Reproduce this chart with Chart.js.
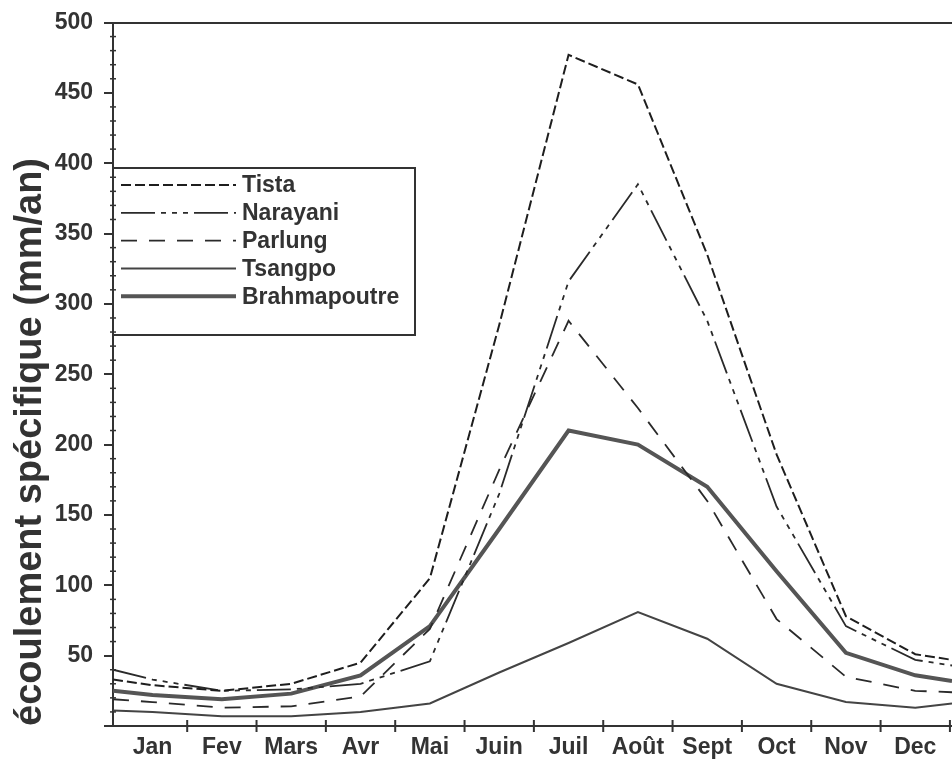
<!DOCTYPE html>
<html lang="fr">
<head>
  <meta charset="UTF-8" />
  <title>Écoulement spécifique</title>
  <script src="https://cdn.jsdelivr.net/npm/chart.js@4"></script>
  <style>
    html, body { margin: 0; padding: 0; background: #fff; }
    #wrap { width: 952px; height: 760px; position: relative; }
  </style>
</head>
<body>
  <div id="wrap"><canvas id="chart"></canvas></div>

  <script>
    // positions des mois (bords gauche/droit du graphique compris)
    const moisPos = [0.43, 1, 2, 3, 4, 5, 6, 7, 8, 9, 10, 11, 12, 12.53];
    const mois = ['Jan', 'Fev', 'Mars', 'Avr', 'Mai', 'Juin', 'Juil', 'Août', 'Sept', 'Oct', 'Nov', 'Dec'];

    const tista        = [33, 29, 25, 30, 45, 105, 285, 477, 456, 335, 193, 78, 51, 47];
    const narayani     = [40, 33, 25, 26, 30, 46, 165, 316, 385, 288, 156, 71, 47, 43];
    const parlung      = [19, 17, 13, 14, 21, 69, 182, 288, 226, 160, 76, 35, 25, 24];
    const tsangpo      = [11, 10, 7, 7, 10, 16, 38, 59, 81, 62, 30, 17, 13, 16];
    const brahmapoutre = [25, 22, 19, 23, 36, 71, 140, 210, 200, 170, 110, 52, 36, 32];

    const pts = arr => moisPos.map((x, i) => ({ x, y: arr[i] }));
    const police = '"Liberation Sans", Arial, sans-serif';
    Chart.defaults.font.family = police;
    Chart.defaults.color = '#333';

    // légende encadrée dans le coin haut gauche
    const legendBox = {
      id: 'legendBox',
      afterDraw(chart) {
        const { ctx, chartArea } = chart;
        const x0 = chartArea.left, y0 = 168, w = 302, h = 167;
        ctx.save();
        ctx.fillStyle = '#fff';
        ctx.fillRect(x0 + 1, y0, w - 1, h);
        ctx.strokeStyle = '#333';
        ctx.lineWidth = 2;
        ctx.beginPath();
        ctx.moveTo(x0, y0); ctx.lineTo(x0 + w, y0); ctx.lineTo(x0 + w, y0 + h); ctx.lineTo(x0, y0 + h);
        ctx.stroke();
        chart.data.datasets.forEach((ds, i) => {
          const y = y0 + 17 + i * 27.8;
          ctx.setLineDash(ds.borderDash || []);
          ctx.lineWidth = ds.borderWidth;
          ctx.strokeStyle = ds.borderColor;
          ctx.beginPath(); ctx.moveTo(x0 + 8, y); ctx.lineTo(x0 + 123, y); ctx.stroke();
          ctx.setLineDash([]);
          ctx.fillStyle = '#333';
          ctx.font = 'bold 23px ' + police;
          ctx.textBaseline = 'middle';
          ctx.fillText(ds.label, x0 + 129, y + 1);
        });
        ctx.restore();
      }
    };

    // graduations qui traversent l'axe des x + petites graduations en y
    const axisMarks = {
      id: 'axisMarks',
      afterDraw(chart) {
        const { ctx, chartArea, scales: { x, y } } = chart;
        ctx.save();
        ctx.strokeStyle = '#333';
        ctx.lineWidth = 2;
        for (let k = 1; k <= mois.length; k++) {
          const px = x.getPixelForValue(k + 0.5);
          if (px > chartArea.right) break;
          ctx.beginPath(); ctx.moveTo(px, chartArea.bottom - 6); ctx.lineTo(px, chartArea.bottom + 6); ctx.stroke();
        }
        ctx.lineWidth = 1.5;
        for (let v = 10; v < 500; v += 10) {
          if (v % 50 === 0) continue;
          const py = y.getPixelForValue(v);
          ctx.beginPath(); ctx.moveTo(chartArea.left - 3, py); ctx.lineTo(chartArea.left + 3, py); ctx.stroke();
        }
        ctx.restore();
      }
    };

    new Chart(document.getElementById('chart'), {
      type: 'line',
      data: {
        datasets: [
          { label: 'Tista', data: pts(tista), borderColor: '#1e1e1e', borderWidth: 2, borderDash: [10, 4] },
          { label: 'Narayani', data: pts(narayani), borderColor: '#2a2a2a', borderWidth: 1.8, borderDash: [34, 6, 5, 6, 5, 6, 5, 6] },
          { label: 'Parlung', data: pts(parlung), borderColor: '#2a2a2a', borderWidth: 1.8, borderDash: [16, 12] },
          { label: 'Tsangpo', data: pts(tsangpo), borderColor: '#444', borderWidth: 2 },
          { label: 'Brahmapoutre', data: pts(brahmapoutre), borderColor: '#555', borderWidth: 4 }
        ]
      },
      options: {
        responsive: true,
        maintainAspectRatio: false,
        animation: false,
        layout: { padding: { top: 20, left: 0, right: 0, bottom: 0 } },
        elements: { point: { radius: 0 }, line: { tension: 0, fill: false } },
        plugins: { legend: { display: false }, tooltip: { enabled: false } },
        scales: {
          x: {
            type: 'linear',
            min: moisPos[0],
            max: moisPos[moisPos.length - 1],
            afterBuildTicks: s => { s.ticks = mois.map((_, i) => ({ value: i + 1 })); },
            afterFit: s => { s.height = 34; },
            ticks: {
              callback: v => mois[v - 1],
              font: { size: 23, weight: 'bold' },
              color: '#333',
              padding: 8,
              maxRotation: 0,
              autoSkip: false
            },
            grid: { display: false, drawTicks: false },
            border: { display: true, color: '#333', width: 2 }
          },
          y: {
            min: 0,
            max: 500,
            afterFit: s => { s.width = 113; },
            ticks: {
              stepSize: 50,
              callback: v => (v === 0 ? '' : v),
              font: { size: 23, weight: 'bold', lineHeight: 1 },
              color: '#333',
              padding: 11
            },
            grid: {
              color: c => (c.tick && c.tick.value === 500 ? '#333' : 'rgba(0,0,0,0)'),
              lineWidth: 2,
              tickColor: '#333',
              tickLength: 9,
              tickWidth: 2
            },
            border: { color: '#333', width: 2 },
            title: {
              display: true,
              align: 'start',
              text: 'écoulement spécifique (mm/an)',
              font: { size: 38, weight: 'bold' },
              color: '#333',
              padding: { top: 8, bottom: 0 }
            }
          }
        }
      },
      plugins: [legendBox, axisMarks]
    });
  </script>
</body>
</html>
